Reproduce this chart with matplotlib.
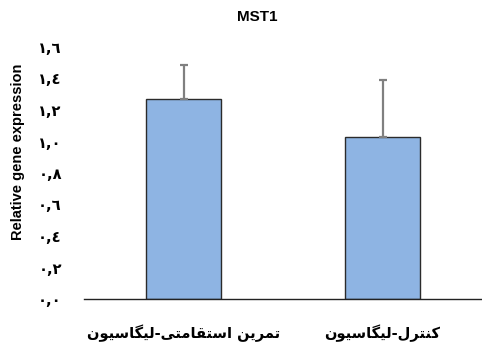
import matplotlib
matplotlib.use("Agg")
import matplotlib.pyplot as plt

# ---- data ----
categories = ["تمرین استقامتی-لیگاسیون", "کنترل-لیگاسیون"]
values = [1.27, 1.03]
errors = [0.215, 0.36]
yticks = [0.0, 0.2, 0.4, 0.6, 0.8, 1.0, 1.2, 1.4, 1.6]
title = "MST1"
ylabel = "Relative gene expression"

# ---- minimal Arabic/Persian shaping for matplotlib (no native shaping) ----
FORMS = {
    "ا": (0xFE8D, 0xFE8E, None, None),
    "ت": (0xFE95, 0xFE96, 0xFE97, 0xFE98),
    "م": (0xFEE1, 0xFEE2, 0xFEE3, 0xFEE4),
    "ر": (0xFEAD, 0xFEAE, None, None),
    "ی": (0xFBFC, 0xFBFD, 0xFBFE, 0xFBFF),
    "ن": (0xFEE5, 0xFEE6, 0xFEE7, 0xFEE8),
    "س": (0xFEB1, 0xFEB2, 0xFEB3, 0xFEB4),
    "ق": (0xFED5, 0xFED6, 0xFED7, 0xFED8),
    "گ": (0xFB92, 0xFB93, 0xFB94, 0xFB95),
    "ل": (0xFEDD, 0xFEDE, 0xFEDF, 0xFEE0),
    "و": (0xFEED, 0xFEEE, None, None),
    "ک": (0xFB8E, 0xFB8F, 0xFB90, 0xFB91),
}


def shape(text):
    out = []
    n = len(text)
    for i, ch in enumerate(text):
        if ch not in FORMS:
            out.append(ch)
            continue
        iso, fin, ini, med = FORMS[ch]
        prev = text[i - 1] if i > 0 else None
        nxt = text[i + 1] if i < n - 1 else None
        jp = prev in FORMS and FORMS[prev][2] is not None
        jn = ini is not None and nxt in FORMS
        if jp and jn:
            code = med
        elif jp:
            code = fin
        elif jn:
            code = ini
        else:
            code = iso
        out.append(chr(code))
    return "".join(reversed(out))


def arabic_num(v):
    s = f"{v:.1f}"
    digits = "٠١٢٣٤٥٦٧٨٩"
    return "".join(digits[int(c)] if c.isdigit() else "," for c in s)


fig = plt.figure(figsize=(4.82, 3.47), dpi=100)
ax = fig.add_axes([84 / 482, 48 / 347, 398 / 482, 252 / 347])

x = list(range(len(categories)))
ax.bar(x, values, width=0.38, color="#8EB4E3", edgecolor="#2b2b2b",
       linewidth=1.0, zorder=2)
ax.errorbar(x, values, yerr=[[0] * len(errors), errors], fmt="none",
            ecolor="#808080", elinewidth=1.6, capsize=3, capthick=1.6, zorder=3)

ax.set_xlim(-0.5, len(categories) - 0.5)
ax.set_ylim(0, 1.6)
ax.set_yticks(yticks)
ax.set_yticklabels([arabic_num(v) for v in yticks],
                   fontfamily=["DejaVu Sans"], fontsize=10.5, fontweight="bold")
ax.tick_params(axis="y", length=0, pad=16)
ax.set_xticks(x)
ax.set_xticklabels([shape(c) for c in categories],
                   fontfamily=["DejaVu Sans"], fontsize=10.5, fontweight="bold")
ax.tick_params(axis="x", length=0, pad=18)

for s in ["top", "right", "left"]:
    ax.spines[s].set_visible(False)
ax.spines["bottom"].set_color("#222222")
ax.spines["bottom"].set_linewidth(1.0)

fig.text(18 / 482, 1 - 152 / 347, ylabel, rotation=90, ha="center",
         va="center", fontsize=10.5, fontweight="bold",
         fontfamily=["Liberation Sans"])
fig.text(257 / 482, 1 - 17 / 347, title, ha="center", va="center",
         fontsize=11, fontweight="bold", fontfamily=["Liberation Sans"])

fig.savefig("out.png", dpi=100)
